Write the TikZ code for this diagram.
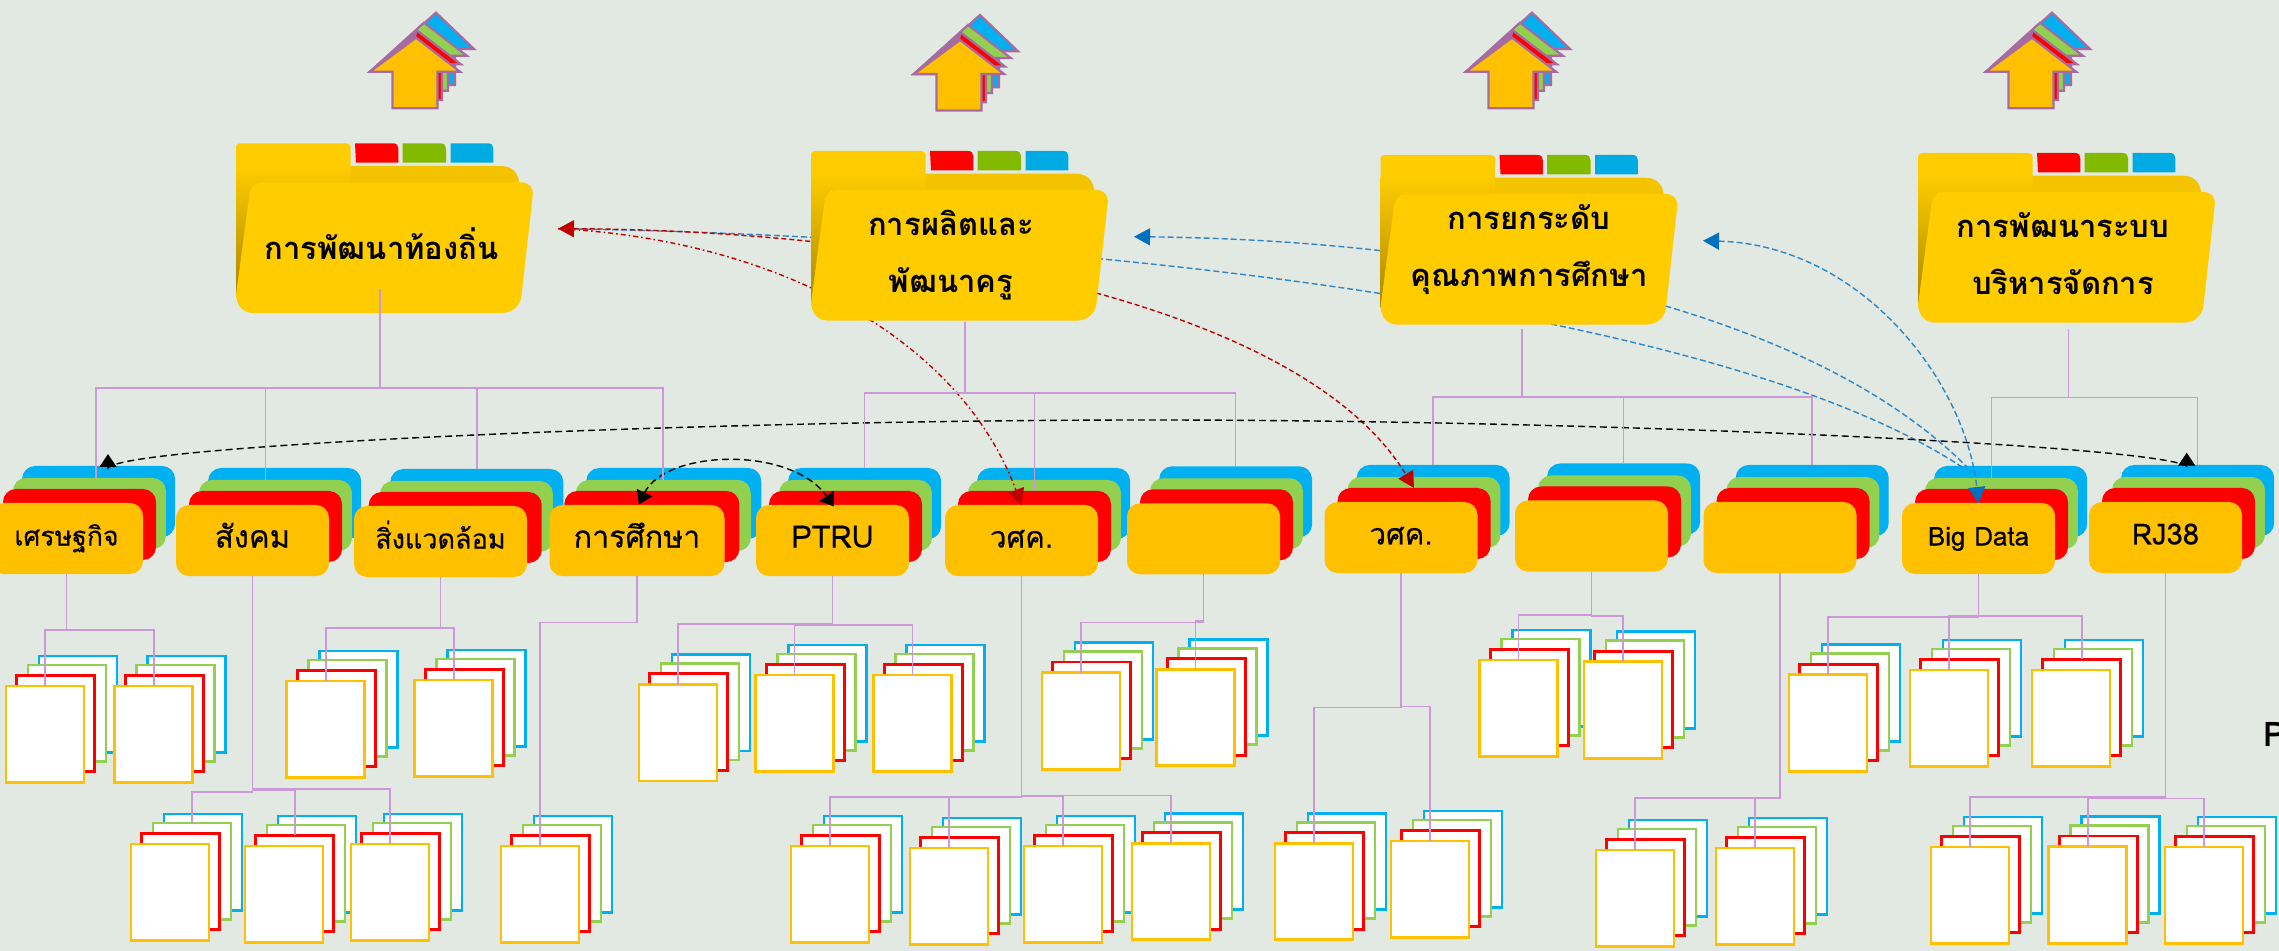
\documentclass[tikz,border=0pt]{standalone}
\usepackage{fontspec}
\usetikzlibrary{arrows.meta,calc}
\newfontfamily\thai[Script=Thai]{Loma}
\newfontfamily\thaim[Script=Thai,FakeBold=0.3]{Loma}
\definecolor{bgc}{HTML}{E2E9E2}
\definecolor{amb}{HTML}{FFC000}
\definecolor{rd}{HTML}{FF0000}
\definecolor{grn}{HTML}{92D050}
\definecolor{blu}{HTML}{00B0F0}
\definecolor{fold}{HTML}{FFCC00}
\definecolor{foldb}{HTML}{F4C300}
\definecolor{foldd}{HTML}{A88800}
\definecolor{tabg}{HTML}{82BA00}
\definecolor{tabb}{HTML}{00ABE3}
\definecolor{purp}{HTML}{CC99D8}
\definecolor{astr}{HTML}{A66BA2}
\definecolor{dred}{HTML}{C00000}
\definecolor{dblu}{HTML}{0070C0}
\definecolor{lblu}{HTML}{2E86C8}
\tikzset{
 cardbase/.style={rounded corners=6.5pt,inner sep=0,outer sep=0,minimum height=35.5pt},
 docbase/.style={draw,fill=white,line width=1.45pt,inner sep=0,outer sep=0,minimum width=39pt,minimum height=48.2pt},
 conn/.style={draw=purp,line width=0.8pt},
 arrowicon/.style={draw=astr,line width=1.1pt,line join=miter},
 flabel/.style={font=\thai\bfseries\fontsize{15.5}{28.5}\selectfont,align=center,inner sep=0},
 blackdash/.style={draw=black,line width=0.7pt,dash pattern=on 3.5pt off 2pt},
 reddash/.style={draw=dred,line width=0.7pt,dash pattern=on 2.5pt off 1.5pt},
 reddot/.style={draw=dred,line width=0.7pt,dash pattern=on 2.5pt off 1.5pt on 0.8pt off 1.5pt},
 bluedash/.style={draw=lblu,line width=0.7pt,dash pattern=on 3pt off 1.5pt},
 tipk/.tip={Triangle[width=8.5pt,length=6.5pt,black]},
 tipr/.tip={Triangle[width=8.5pt,length=8pt,dred]},
 tipb/.tip={Triangle[width=8.5pt,length=8pt,dblu]},
}
% #1 name, #2 left, #3 top, #4 width, #5 font size, #6 text
\newcommand\cardstack[6]{
 \node[cardbase,fill=blu,minimum width=#4*0.5pt] (#1b) at (#2+#4*0.71,#3-37+35.5) {};
 \node[cardbase,fill=grn,minimum width=#4*0.5pt] (#1g) at (#2+#4*0.65,#3-25+35.5) {};
 \node[cardbase,fill=rd,minimum width=#4*0.5pt] (#1r) at (#2+#4*0.585,#3-14+35.5) {};
 \node[cardbase,fill=amb,minimum width=#4*0.5pt,text height=1em,text depth=.3em,font=\thaim\fontsize{#5}{#5}\selectfont] (#1) at (#2+#4*0.5,#3+35.5) {#6};
}
% #1 name, #2 left, #3 top
\newcommand\docstack[3]{
 \node[docbase,draw=blu] (#1b) at (#2+33+39,#3-30+48.2) {};
 \node[docbase,draw=grn] (#1g) at (#2+22+39,#3-21+48.2) {};
 \node[docbase,draw=rd] (#1r) at (#2+10.7+39,#3-10.7+48.2) {};
 \node[docbase,draw=amb] (#1) at (#2+39,#3+48.2) {};
}
% #1 left tip x, #2 tip y
\newcommand\arrowstack[2]{
 \begin{scope}[shift={(#1,#2)}]
  \path[arrowicon,fill=blu] (66,-59) -- (104,-22.7) -- (85,-22.7) -- (85,13.4) -- (40,13.4) -- (40,0) -- (0,0) -- cycle;
  \path[arrowicon,fill=grn] (54,-49) -- (96.7,-16) -- (78,-16) -- (78,19) -- (40,19) -- (40,0) -- (0,0) -- cycle;
  \path[arrowicon,fill=rd] (47.3,-41) -- (91,-7.4) -- (72,-7.4) -- (72,28.3) -- (40,28.3) -- (40,0) -- (0,0) -- cycle;
  \fill[astr] (0,0) -- (47.3,-41) -- (46,-34) -- cycle;
  \path[arrowicon,fill=amb] (0,0) -- (46,-34) -- (90,0) -- (67.5,0) -- (67.5,36.6) -- (22.5,36.6) -- (22.5,0) -- cycle;
 \end{scope}
}
% #1 left, #2 top
\newcommand\folderbody[2]{
 \begin{scope}[shift={(#1,#2)}]
  \fill[fold] (0,24) -- (0,5) .. controls (0,1.5) and (1.5,0) .. (5,0) -- (110,0) .. controls (113,0) and (114.7,1.5) .. (114.7,5)
    -- (114.7,24) -- cycle;
  \shade[top color=fold,bottom color=foldb] (0,23) rectangle (114.7,40);
  \fill[foldb] (114.7,22.7) -- (265,22.7) .. controls (276,22.7) and (283.3,30) .. (283.3,42) -- (114.7,42) -- cycle;
  \shade[top color=foldb,bottom color=foldd] (0,39.5) rectangle (20,153);
  \fill[fold] (13.3,52) .. controls (14,44) and (19,39) .. (28,39) -- (285,39)
    .. controls (293,39) and (297.5,44) .. (296.7,52) -- (285.5,152)
    .. controls (284.5,163) and (276,169.7) .. (265,169.7) -- (18,169.7) .. controls (7,169.7) and (1,163) .. (0,152) -- cycle;
  \fill[rd] (119,0) -- (157,0) .. controls (160.5,0) and (162.3,2) .. (162.3,5) -- (162.3,19.4) -- (120,19.4) -- cycle;
  \fill[tabg] (166.7,0) -- (204.7,0) .. controls (208,0) and (210,2) .. (210,5) -- (210,19.4) -- (166.7,19.4) -- cycle;
  \fill[tabb] (214.7,0) -- (252,0) .. controls (255.5,0) and (257.3,2) .. (257.3,5) -- (257.3,19.4) -- (214.7,19.4) -- cycle;
 \end{scope}
}
% #1 source, #2 bus y, #3 target
\newcommand\bus[3]{\draw[conn] (#1) -- (#1 |- 0,#2) -- (#3 |- 0,#2) -- (#3);}
\begin{document}
\begin{tikzpicture}[x=0.5pt,y=-0.5pt]
\useasboundingbox (0,0) rectangle (2279,951);
\fill[bgc] (0,0) rectangle (2279,951);
% card stacks
\cardstack{ca}{-10}{503}{153}{13.3}{เศรษฐกิจ}
\cardstack{cb}{176}{505}{153}{15.5}{สังคม}
\cardstack{cc}{354}{506}{173}{13.5}{สิ่งแวดล้อม}
\cardstack{cd}{549.5}{505}{175}{15.2}{การศึกษา}
\cardstack{ce}{756}{505}{153}{15.4}{PTRU}
\cardstack{cf}{945}{505}{153}{14.7}{วศค.}
\cardstack{cg}{1127}{503.3}{153}{14}{}
\cardstack{ch}{1324.5}{502}{153}{14.7}{วศค.}
\cardstack{ci}{1515}{500.5}{153}{14}{}
\cardstack{cj}{1703.5}{502}{153}{14}{}
\cardstack{ck}{1902}{503}{153}{13}{Big Data}
\cardstack{cl}{2089}{502}{153}{14.6}{RJ38}
% document stacks
\docstack{d1}{6}{686}\docstack{d2}{114.7}{686}\docstack{d3}{286.7}{681}\docstack{d4}{414.7}{680}
\docstack{d5}{131}{844}\docstack{d6}{245}{846}\docstack{d7}{351}{844}\docstack{d8}{501}{846}
\docstack{d9}{639}{684.6}\docstack{d10}{755.6}{675}\docstack{d11}{873.5}{675}
\docstack{d12}{1042}{672.7}\docstack{d13}{1156.6}{669.5}
\docstack{d14}{791}{846}\docstack{d15}{910}{848}\docstack{d16}{1024}{846}\docstack{d17}{1132}{843.4}
\docstack{d18}{1275}{843.4}\docstack{d19}{1391}{841}
\docstack{d20}{1479.6}{660}\docstack{d21}{1584}{661.8}
\docstack{d22}{1596}{850}\docstack{d23}{1716}{848}
\docstack{d24}{1789}{674.8}\docstack{d25}{1910}{670}\docstack{d26}{2032}{670}
\docstack{d27}{1931}{847}\docstack{d28}{2048.7}{846.7}\docstack{d29}{2165}{847}
% free ends of the curved connectors
\coordinate (redhead) at (558,228.7);
\coordinate (bluetipa) at (1134,236.7);
\coordinate (bluetipb) at (1703,240.7);
\coordinate (bluelow) at (1962,467);
\coordinate (blueup) at (1967,467);
% curved connectors behind the folders
\draw[bluedash,{tipb}-] (bluetipa) .. controls (1450,240) and (1800,300) .. (blueup);
\draw[bluedash] (redhead) .. controls (1000,235) and (1700,295) .. (bluelow);
\draw[bluedash,{tipb}-{tipb}] (bluetipb) .. controls (1860,245) and (1965,380) .. (ck.north);
\draw[reddash,{tipr}-{tipr}] (redhead) .. controls (900,230) and (1300,300) .. (chr.north);
\draw[reddot,-{tipr}] (redhead) .. controls (780,240) and (960,340) .. (cf.north);
% black curves
\coordinate (klefta) at (108,454);
\coordinate (kleftb) at (108,468);
\coordinate (krighta) at (2186.7,452.7);
\coordinate (krightb) at (2186.7,466);
\draw[blackdash,{tipk}-{tipk}] (klefta) -- (kleftb) .. controls (125,445) and (700,420) .. (1150,420) .. controls (1600,420) and (2150,445) .. (krightb) -- (krighta);
\coordinate (edleft) at (639,504.4);
\coordinate (edright) at (834,506.5);
\draw[blackdash,{tipk}-{tipk}] (edleft) .. controls (665,450) and (790,445) .. (edright);
% folders
\folderbody{236}{143.3}\folderbody{811}{151}\folderbody{1380.5}{155}\folderbody{1918}{153}
\node[flabel] (fa) at (381.7,244) {การพัฒนาท้องถิ่น};
\node[flabel] (fb) at (951,255) {การผลิตและ\\พัฒนาครู};
\node[flabel] (fc) at (1529,250) {การยกระดับ\\คุณภาพการศึกษา};
\node[flabel] (fd) at (2063,254) {การพัฒนาระบบ\\บริหารจัดการ};
% arrow icons
\arrowstack{370}{71.7}\arrowstack{914}{74}\arrowstack{1466}{71.7}\arrowstack{1986}{71.7}
% folder connectors
\coordinate (fao) at (380,289);
\coordinate (fbo) at (965,322);
\coordinate (fco) at (1521.7,329);
\coordinate (fdo) at (2068.4,329);
\coordinate (cagt) at ([xshift=3.25pt]cag.north);
\bus{fao}{388}{cagt}\bus{fao}{388}{cbr.north}\bus{fao}{388}{ccb.north}\bus{fao}{388}{cdg.north}
\bus{fbo}{393}{ceb.north}\bus{fbo}{393}{cfr.north}\bus{fbo}{393}{cgb.north}
\bus{fco}{397}{chb.north}\bus{fco}{397}{cib.north}\bus{fco}{397}{cjb.north}
\bus{fdo}{397.5}{ckr.north}\bus{fdo}{397.5}{clb.north}
% card connectors
\bus{ca.south}{629.7}{d1.north}\bus{ca.south}{629.7}{d2.north}
\bus{cb.south}{792}{d5g.north}\bus{cb.south}{790}{d6r.north}\bus{cb.south}{788.7}{d7.north}
\bus{cc.south}{628}{d3.north}\bus{cc.south}{628}{d4.north}
\bus{cd.south}{622.4}{d8.north}
\bus{ce.south}{624}{d9.north}\bus{ce.south}{625}{d10.north}\bus{ce.south}{625}{d11.north}
\bus{cf.south}{797}{d14.north}\bus{cf.south}{797}{d15.north}\bus{cf.south}{796}{d16.north}\bus{cf.south}{795.6}{d17.north}
\bus{cg.south}{622.5}{d12.north}\bus{cg.south}{620.7}{d13.north}
\bus{ch.south}{707.5}{d18.north}\bus{ch.south}{706.5}{d19.north}
\bus{ci.south}{615}{d20.north}\bus{ci.south}{616}{d21.north}
\bus{cj.south}{797.7}{d22.north}\bus{cj.south}{797.7}{d23.north}
\bus{ck.south}{617}{d24.north}\bus{ck.south}{616}{d25.north}\bus{ck.south}{616}{d26r.north}
\bus{cl.south}{797}{d27.north}\bus{cl.south}{798}{d28.north}\bus{cl.south}{798.5}{d29.north}
% text cut by the right edge
\node[anchor=base west,inner sep=0,font=\thai\bfseries\fontsize{17}{18}\selectfont] (edgep) at (2263.5,746.7) {P};
\end{tikzpicture}
\end{document}
